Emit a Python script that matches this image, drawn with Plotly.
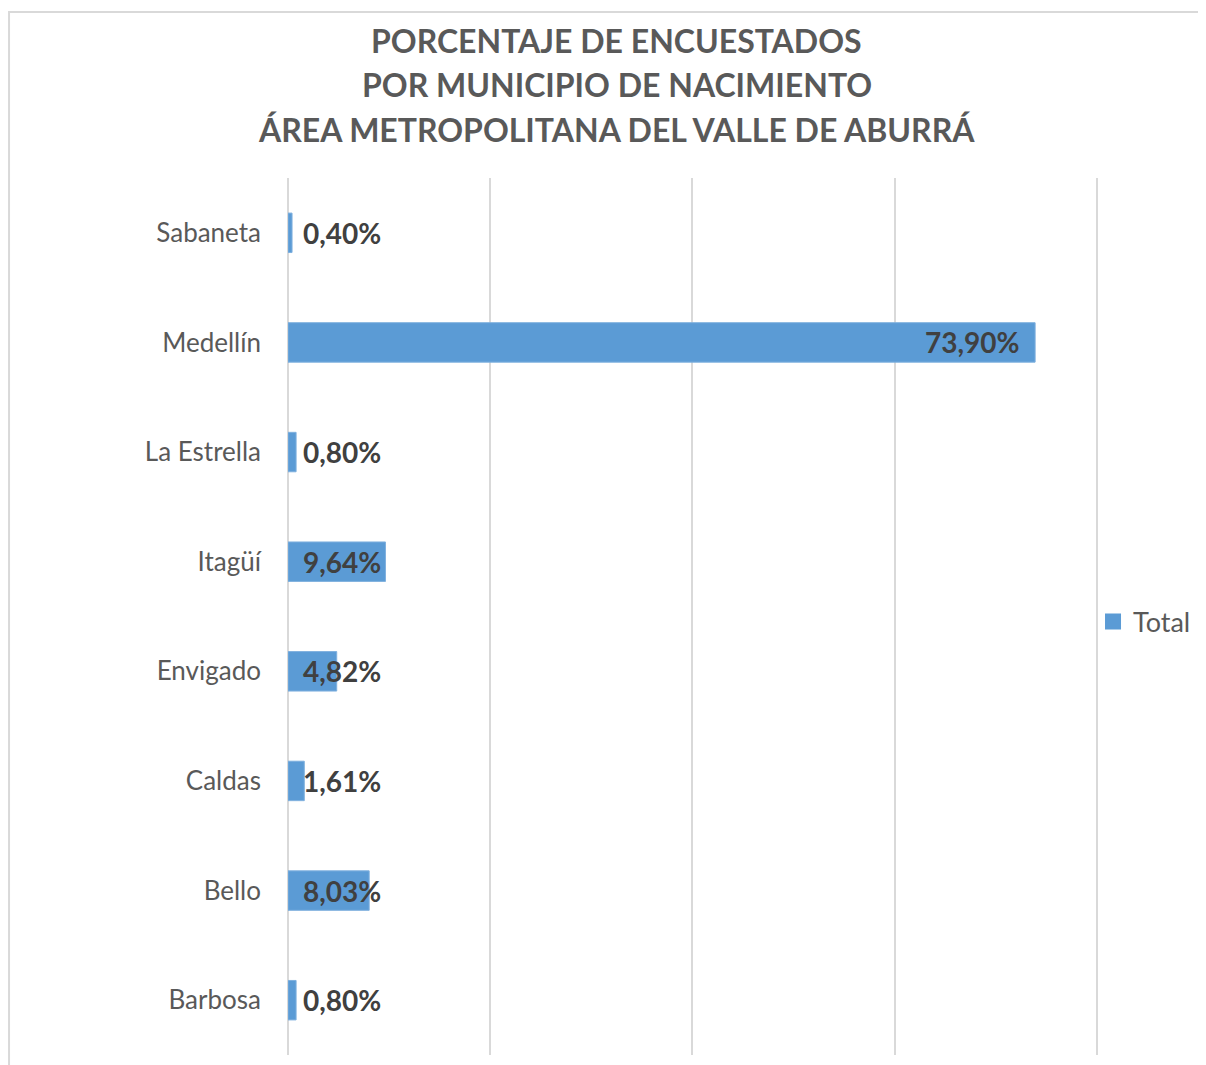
import plotly.graph_objects as go

categories = ["Barbosa", "Bello", "Caldas", "Envigado", "Itagüí", "La Estrella", "Medellín", "Sabaneta"]
values = [0.0080, 0.0803, 0.0161, 0.0482, 0.0964, 0.0080, 0.7390, 0.0040]
labels = ["0,80%", "8,03%", "1,61%", "4,82%", "9,64%", "0,80%", "73,90%", "0,40%"]
x_ticks = [0, 0.2, 0.4, 0.6, 0.8]
title_lines = ["PORCENTAJE DE ENCUESTADOS", "POR MUNICIPIO DE NACIMIENTO",
               "ÁREA METROPOLITANA DEL VALLE DE ABURRÁ"]

OFF = 8  # default page body margin
W, H = 1206 - OFF, 1065 - OFF
L, R, T, B = 280, 105, 170, 10
pw, ph = W - L - R, H - T - B

def px_x(p):  # page pixel -> paper
    return (p - OFF - L) / pw

def px_y(p):
    return (H - B - (p - OFF)) / ph

FONT = "Lato"
BLUE = "#5B9BD5"

fig = go.Figure()
fig.add_trace(go.Bar(
    y=categories, x=values, orientation="h", name="Total",
    marker=dict(color=BLUE, line=dict(color="#7fb0de", width=1)),
    hoverinfo="skip", showlegend=False,
))
# legend entry
fig.add_trace(go.Scatter(
    x=[None], y=[None], mode="markers", name="Total",
    marker=dict(symbol="square", size=16, color=BLUE), showlegend=True,
))

annotations = []
for c, v, t in zip(categories, values, labels):
    if v > 0.3:
        annotations.append(dict(x=v, y=c, xref="x", yref="y", text=t, showarrow=False,
                                xanchor="right", xshift=-14,
                                font=dict(family=FONT, size=28, color="#404040", weight="bold")))
    else:
        annotations.append(dict(x=0, y=c, xref="x", yref="y", text=t, showarrow=False,
                                xanchor="left", xshift=13,
                                font=dict(family=FONT, size=28, color="#404040", weight="bold")))

for line, yc in zip(title_lines, [40, 85, 130]):
    annotations.append(dict(
        x=px_x(618), y=px_y(yc), xref="paper", yref="paper",
        text=line, showarrow=False, xanchor="center", yanchor="middle",
        font=dict(family=FONT, size=32, color="#595959", weight="bold"),
    ))

fig.update_layout(
    width=W, height=H,
    margin=dict(l=L, r=R, t=T, b=B),
    paper_bgcolor="white", plot_bgcolor="white",
    bargap=0.64,
    showlegend=True,
    legend=dict(x=px_x(1096), y=px_y(622), xanchor="left", yanchor="middle",
                font=dict(family=FONT, size=27, color="#595959"),
                bgcolor="rgba(0,0,0,0)", itemwidth=30),
    xaxis=dict(range=[0, 0.8012], tickvals=x_ticks, showticklabels=False,
               showgrid=True, gridcolor="#d9d9d9", gridwidth=2,
               zeroline=True, zerolinecolor="#d9d9d9", zerolinewidth=2,
               showline=False, fixedrange=True),
    yaxis=dict(categoryorder="array", categoryarray=categories, range=[-0.5, 7.5],
               tickfont=dict(family=FONT, size=26, color="#595959"),
               ticklabelstandoff=26, showgrid=False, showline=False, ticks="",
               zeroline=False),
    annotations=annotations,
    shapes=[dict(type="rect", xref="paper", yref="paper",
                 x0=px_x(8), x1=px_x(1300), y0=px_y(1100), y1=px_y(12),
                 line=dict(color="#d9d9d9", width=2), fillcolor="rgba(0,0,0,0)",
                 layer="below")],
)

fig.write_html("out.html")
